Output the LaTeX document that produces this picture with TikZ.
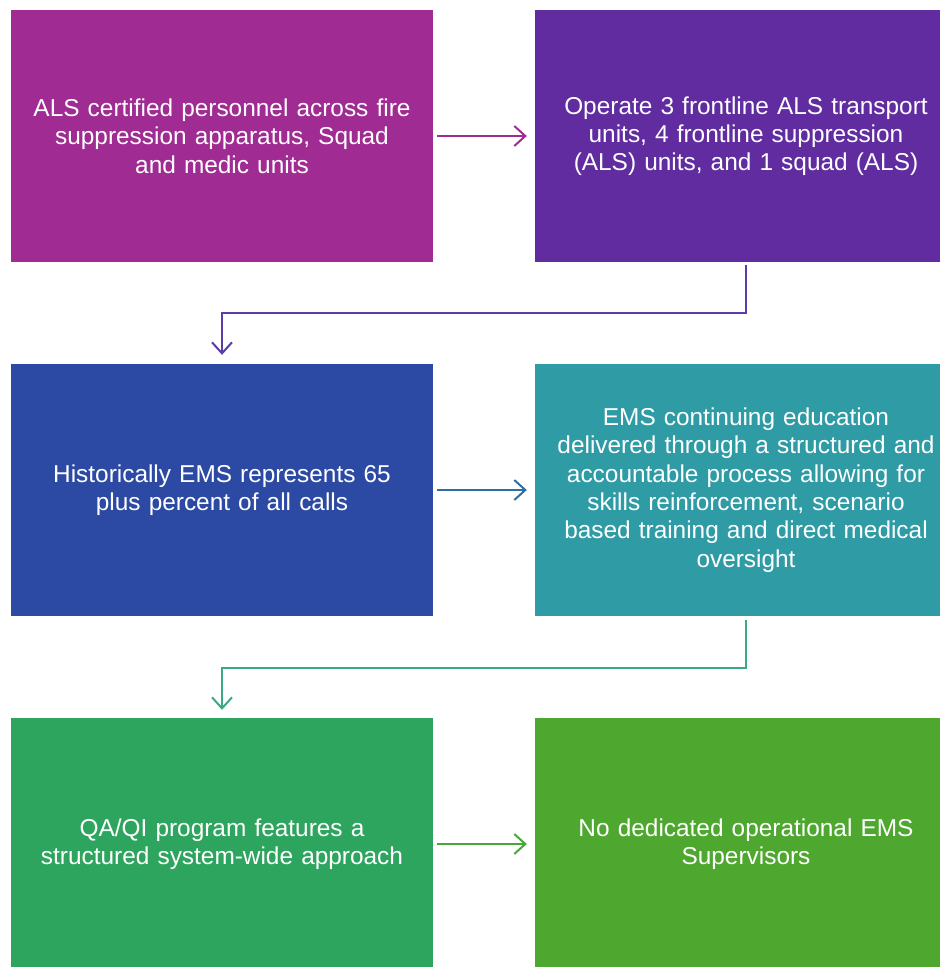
\documentclass[tikz,border=0pt]{standalone}
\usepackage{fontspec}
\setmainfont{Liberation Sans}
\usetikzlibrary{arrows.meta}
\definecolor{cA}{HTML}{A02B93}
\definecolor{cB}{HTML}{602CA0}
\definecolor{cC}{HTML}{2C4AA3}
\definecolor{cD}{HTML}{2E9BA5}
\definecolor{cE}{HTML}{2EA55E}
\definecolor{cF}{HTML}{4EA72E}
\definecolor{aB}{HTML}{5A3BA8}
\definecolor{aC}{HTML}{2E6DA6}
\definecolor{aD}{HTML}{3AAA80}
\definecolor{aF}{HTML}{47A83A}
\tikzset{
  box/.style={rectangle, inner sep=0pt, minimum width=422pt, minimum height=252pt,
    text width=415pt, align=center, text=white,
    font=\fontsize{24.4pt}{28.3pt}\selectfont},
  conn/.style={line width=2pt, -{Straight Barb[length=11pt,width=20pt,line width=2pt]}}
}
\begin{document}
\begin{tikzpicture}[x=1pt,y=-1pt]
\useasboundingbox (0,0) rectangle (940,967);
\clip (0,0) rectangle (940,967);
\node[box, fill=cA] (b1) at (222,136) {ALS certified personnel across fire\\suppression apparatus, Squad\\and medic units};
\node[box, fill=cB] (b2) at (746,136) {Operate 3 frontline ALS transport\\units, 4 frontline suppression\\(ALS) units, and 1 squad (ALS)};
\node[box, fill=cC] (b3) at (222,490) {Historically EMS represents 65\\plus percent of all calls};
\node[box, fill=cD] (b4) at (746,490) {EMS continuing education\\delivered through a structured and\\accountable process allowing for\\skills reinforcement, scenario\\based training and direct medical\\oversight};
\node[box, fill=cE] (b5) at (222,844) {QA/QI program features a\\structured system-wide approach};
\node[box, fill=cF] (b6) at (746,844) {No dedicated operational EMS\\Supervisors};
\draw[conn, draw=cA, shorten <=4pt, shorten >=8pt] (b1) -- (b2);
\draw[conn, draw=aB, shorten <=3pt, shorten >=9pt] (b2.south) -- ++(0,51) -| (b3.north);
\draw[conn, draw=aC, shorten <=4pt, shorten >=8pt] (b3) -- (b4);
\draw[conn, draw=aD, shorten <=4pt, shorten >=8pt] (b4.south) -- ++(0,52) -| (b5.north);
\draw[conn, draw=aF, shorten <=4pt, shorten >=8pt] (b5) -- (b6);
\end{tikzpicture}
\end{document}
